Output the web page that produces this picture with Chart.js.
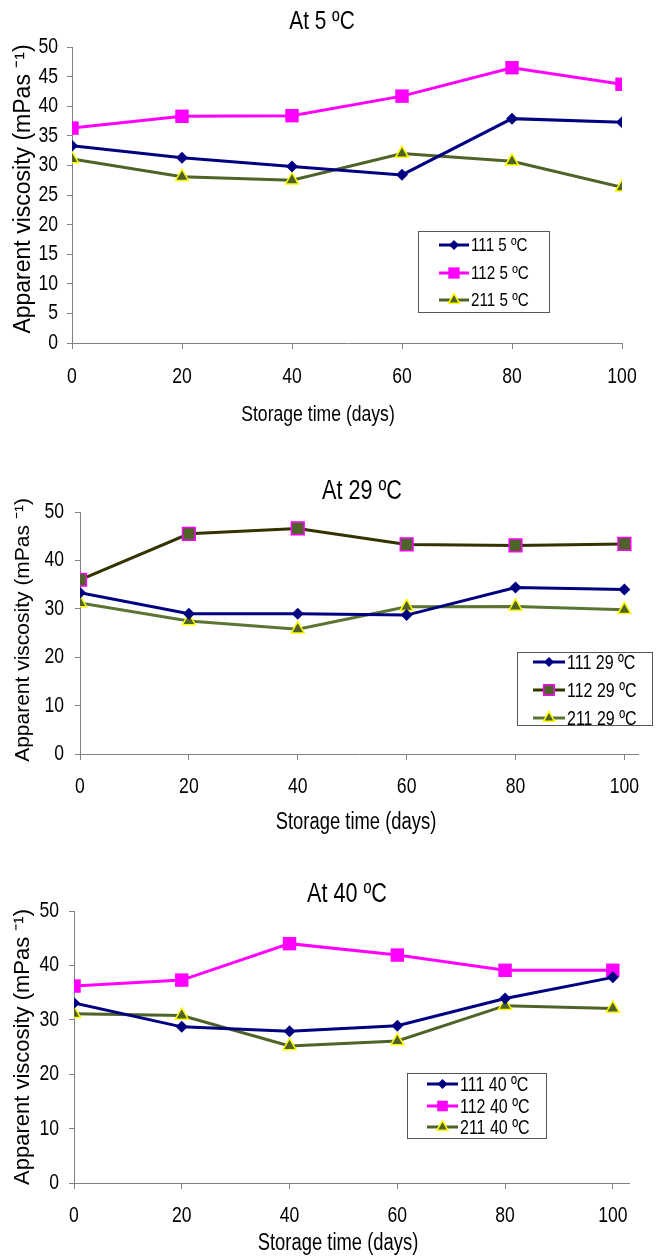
<!DOCTYPE html>
<html><head><meta charset="utf-8">
<script src="https://cdn.jsdelivr.net/npm/chart.js"></script>
<style>
html,body{margin:0;padding:0;background:#fff;}
#wrap{position:relative;width:657px;height:1256px;overflow:hidden;}
canvas{position:absolute;left:0;}
</style></head><body>
<div id="wrap">
<canvas id="c1" width="657" height="440" style="top:0;width:657px;height:440px"></canvas>
<canvas id="c2" width="657" height="400" style="top:440px;width:657px;height:400px"></canvas>
<canvas id="c3" width="657" height="416" style="top:840px;width:657px;height:416px"></canvas>
</div>
<script>
// ---- data ----
const days = [0, 20, 40, 60, 80, 100];
const titles = ['At 5 ºC', 'At 29 ºC', 'At 40 ºC'];
const xTitle = 'Storage time (days)';
const yTitle = 'Apparent viscosity (mPas ⁻¹)';

const v5_111 = [33.3, 31.3, 29.8, 28.4, 37.9, 37.3];
const v5_112 = [36.3, 38.3, 38.4, 41.7, 46.5, 43.7];
const v5_211 = [31.1, 28.1, 27.5, 32.0, 30.7, 26.3];
const labels5 = ['111 5 ºC', '112 5 ºC', '211 5 ºC'];

const v29_111 = [33.3, 29.0, 29.0, 28.7, 34.4, 34.0];
const v29_112 = [36.0, 45.5, 46.6, 43.3, 43.1, 43.4];
const v29_211 = [31.2, 27.5, 25.8, 30.4, 30.5, 29.8];
const labels29 = ['111 29 ºC', '112 29 ºC', '211 29 ºC'];

const v40_111 = [33.1, 28.7, 27.9, 28.9, 33.9, 37.8];
const v40_112 = [36.2, 37.3, 44.0, 41.9, 39.1, 39.1];
const v40_211 = [31.1, 30.8, 25.2, 26.1, 32.6, 32.1];
const labels40 = ['111 40 ºC', '112 40 ºC', '211 40 ºC'];

const yTicks5 = 5, yTicks10 = 10, xStep = 20;

// ---- styles ----
const NARROW = "'Liberation Sans', sans-serif";          // drawn condensed
const REG = "'Liberation Sans', Arial, sans-serif";       // drawn at normal width
const NAVY = '#000080', MAG = '#FF00FF', OLIVE = '#4F6228', OLIVE2 = '#5A7434', DARK = '#333300', YEL = '#FFFF00';
const CONDENSE = 0.8;

// draw narrow-family text horizontally condensed (reference uses a condensed face)
function condense(canvas, k) {
  const ctx = canvas.getContext('2d');
  const orig = ctx.fillText.bind(ctx);
  ctx.fillText = function (text, x, y, maxWidth) {
    if (String(this.font).indexOf('Arial') >= 0) return orig(text, x, y);
    this.save();
    this.translate(x, y);
    this.scale(k, 1);
    orig(text, 0, 0);
    this.restore();
  };
  return canvas;
}

function drawMarker(ctx, style, x, y, r, fill, edge, ew) {
  ctx.save();
  ctx.fillStyle = fill; ctx.strokeStyle = edge; ctx.lineWidth = ew;
  ctx.beginPath();
  if (style === 'rectRot') {
    ctx.moveTo(x, y - r); ctx.lineTo(x + r, y); ctx.lineTo(x, y + r); ctx.lineTo(x - r, y); ctx.closePath();
  } else if (style === 'rect') {
    const s = r * Math.SQRT1_2;
    ctx.rect(x - s, y - s, 2 * s, 2 * s);
  } else {
    const w = r * Math.sqrt(3);
    ctx.moveTo(x, y - r); ctx.lineTo(x + w / 2, y + r / 2); ctx.lineTo(x - w / 2, y + r / 2); ctx.closePath();
  }
  ctx.fill();
  if (ew > 0) ctx.stroke();
  ctx.restore();
}

// titles and the boxed legend placed where the reference has them
const placed = {
  id: 'placed',
  afterDraw(chart, args, o) {
    const ctx = chart.ctx;
    ctx.save();
    ctx.fillStyle = '#000';
    ctx.textAlign = 'center'; ctx.textBaseline = 'middle';
    (o.texts || []).forEach(t => {
      ctx.save();
      ctx.font = t.size + 'px ' + (t.regular ? REG : NARROW);
      ctx.translate(t.x, t.y);
      if (t.rot) ctx.rotate(t.rot);
      ctx.fillText(t.text, 0, 0);
      ctx.restore();
    });
    const b = o.box;
    if (b) {
      ctx.fillStyle = '#fff';
      ctx.fillRect(b[0], b[1], b[2], b[3]);
      ctx.strokeStyle = '#555';
      ctx.lineWidth = 1;
      ctx.strokeRect(b[0] + 0.5, b[1] + 0.5, b[2], b[3]);
      chart.data.datasets.forEach((ds, i) => {
        const y = o.rows[i];
        ctx.strokeStyle = ds.borderColor; ctx.lineWidth = 3;
        ctx.beginPath(); ctx.moveTo(o.lineX, y); ctx.lineTo(o.lineX + o.lineLen, y); ctx.stroke();
        drawMarker(ctx, ds.pointStyle, o.lineX + o.lineLen / 2, y, o.mr[i], ds.pointBackgroundColor, ds.pointBorderColor, ds.pointBorderWidth);
        ctx.fillStyle = '#000';
        ctx.font = o.fontSize + 'px ' + NARROW;
        ctx.textBaseline = 'middle'; ctx.textAlign = 'left';
        ctx.fillText(ds.label, o.textX, y + 1);
      });
    }
    ctx.restore();
  }
};

function makeChart(id, c) {
  const datasets = c.series.map(s => ({
    label: s.label,
    data: days.map((d, k) => ({x: d, y: s.values[k]})),
    borderColor: s.line, borderWidth: 3, tension: 0, fill: false,
    pointStyle: s.style, pointRadius: s.r, pointHoverRadius: s.r,
    pointBackgroundColor: s.fill, pointBorderColor: s.edge, pointBorderWidth: s.ew
  }));
  const L = c.legend;
  L.texts = [
    {text: c.title, x: c.titlePos[0], y: c.titlePos[1], size: c.titleSize},
    {text: xTitle, x: c.xTitlePos[0], y: c.xTitlePos[1], size: c.xTitleSize},
    {text: yTitle, x: c.yTitlePos[0], y: c.yTitlePos[1], size: c.yTitleSize, rot: -Math.PI / 2, regular: true}
  ];
  return new Chart(condense(document.getElementById(id), CONDENSE), {
    type: 'line',
    data: {datasets},
    options: {
      responsive: false, animation: false, devicePixelRatio: 1,
      layout: {padding: {left: 0, right: c.padRight, top: c.padTop, bottom: 0}},
      plugins: {
        legend: {display: false}, tooltip: {enabled: false}, title: {display: false},
        placed: L
      },
      scales: {
        x: {
          type: 'linear', min: 0, max: c.xMax,
          afterFit: s => { s.height = c.xH; },
          ticks: {stepSize: xStep, includeBounds: false, autoSkip: false, maxRotation: 0,
            color: '#000', font: {family: NARROW, size: c.xTickSize, lineHeight: 1.2}, padding: c.xTickPad},
          grid: {drawOnChartArea: false, drawTicks: true, tickLength: 6, color: '#808080', lineWidth: 1},
          border: {color: '#808080', width: 1},
          title: {display: false}
        },
        y: {
          type: 'linear', min: 0, max: 50,
          afterFit: s => { s.width = c.yW; },
          ticks: {stepSize: c.yStep, color: '#000', font: {family: NARROW, size: c.yTickSize}, padding: c.yTickPad},
          grid: {drawOnChartArea: false, drawTicks: true, tickLength: 5, color: '#808080', lineWidth: 1},
          border: {color: '#808080', width: 1},
          title: {display: false}
        }
      }
    },
    plugins: [placed]
  });
}

makeChart('c1', {
  title: titles[0], titleSize: 26, titlePos: [322, 22], padTop: 47,
  padRight: 35, xMax: 100, xH: 97, xTickSize: 22, xTickPad: 15, xTitleSize: 22, xTitlePos: [318, 415],
  yW: 72, yStep: yTicks5, yTickSize: 22, yTickPad: 9, yTitleSize: 23, yTitlePos: [24, 189],
  series: [
    {label: labels5[0], values: v5_111, line: NAVY, style: 'rectRot', r: 6, fill: NAVY, edge: NAVY, ew: 0},
    {label: labels5[1], values: v5_112, line: MAG, style: 'rect', r: 9.5, fill: MAG, edge: MAG, ew: 0},
    {label: labels5[2], values: v5_211, line: OLIVE, style: 'triangle', r: 7.5, fill: OLIVE, edge: YEL, ew: 1.5}
  ],
  legend: {box: [418, 231, 131, 81], rows: [245, 273, 300], lineX: 439, lineLen: 30, textX: 471, fontSize: 19, mr: [5, 8, 6.5]}
});

makeChart('c2', {
  title: titles[1], titleSize: 27, titlePos: [362, 52], padTop: 72,
  padRight: 7, xMax: 102.5, xH: 86, xTickSize: 22, xTickPad: 14, xTitleSize: 23, xTitlePos: [356, 383],
  yW: 80, yStep: yTicks10, yTickSize: 22, yTickPad: 11, yTitleSize: 21, yTitlePos: [23, 190],
  series: [
    {label: labels29[0], values: v29_111, line: NAVY, style: 'rectRot', r: 6, fill: NAVY, edge: NAVY, ew: 0},
    {label: labels29[1], values: v29_112, line: DARK, style: 'rect', r: 9, fill: OLIVE, edge: MAG, ew: 1.5},
    {label: labels29[2], values: v29_211, line: OLIVE2, style: 'triangle', r: 7.5, fill: OLIVE, edge: YEL, ew: 1.5}
  ],
  legend: {box: [517, 212, 135, 73], rows: [222, 250, 278], lineX: 533, lineLen: 32, textX: 567, fontSize: 20, mr: [5, 7.5, 6.5]}
});

makeChart('c3', {
  title: titles[2], titleSize: 27, titlePos: [347, 55], padTop: 71,
  padRight: 28, xMax: 103, xH: 73, xTickSize: 22, xTickPad: 14, xTitleSize: 23, xTitlePos: [338, 404],
  yW: 74, yStep: yTicks10, yTickSize: 22, yTickPad: 10, yTitleSize: 22, yTitlePos: [23, 207],
  series: [
    {label: labels40[0], values: v40_111, line: NAVY, style: 'rectRot', r: 6, fill: NAVY, edge: NAVY, ew: 0},
    {label: labels40[1], values: v40_112, line: MAG, style: 'rect', r: 9.5, fill: MAG, edge: MAG, ew: 0},
    {label: labels40[2], values: v40_211, line: OLIVE, style: 'triangle', r: 7.5, fill: OLIVE, edge: YEL, ew: 1.5}
  ],
  legend: {box: [407, 233, 139, 65], rows: [244, 266, 287], lineX: 427, lineLen: 31, textX: 460, fontSize: 20, mr: [5, 7.5, 6.5]}
});
</script>
</body></html>
